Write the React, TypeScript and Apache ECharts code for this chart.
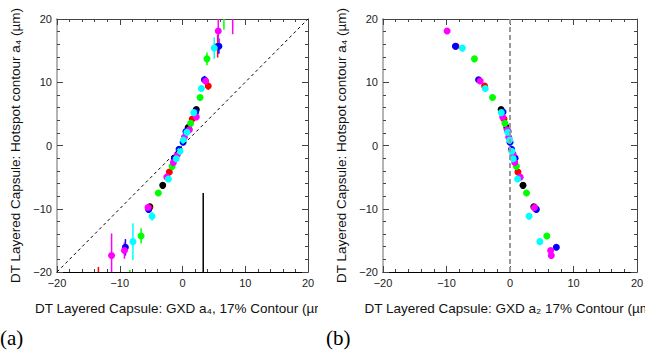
import { useEffect, useRef } from 'react';
import * as echarts from 'echarts';

// ROOT-style marker colours: black, red, green, blue, magenta, cyan
const seriesNames = ['black', 'red', 'green', 'blue', 'magenta', 'cyan'];
const seriesColors = ['#000000', '#ff0000', '#00ff00', '#0000ff', '#ff00ff', '#00ffff'];

// Hotspot contour a4 (shared y values), GXD a4 (panel a x), GXD a2 (panel b x), y error (panel a)
const blackY = [5.7, 2.85, -6.3, -9.7, -25];
const blackXA = [2.2, 0.9, -3.15, -5.2, 3.3];
const blackXB = [-1.4, -0.5, 2.05, 3.75, 9];
const blackErr = [0.4, 0.4, 0.4, 0.5, 17.5];

const redY = [15.7, 9.4, 4.2, -4.2, -9.9, -22];
const redXA = [5.6, 4.1, 1.55, -2.1, -5.3, -13.4];
const redXB = [-8.5, -4.0, -0.95, 1.25, 3.95, 8];
const redErr = [1.8, 0.6, 0.4, 0.4, 0.5, 2.8];

const greenY = [21.8, 13.7, 7.6, 3.5, -3.3, -7.5, -14.3, -22];
const greenXA = [6.6, 3.9, 2.8, 1.3, -1.65, -3.85, -6.6, -8.4];
const greenXB = [-11, -5.6, -2.75, -0.8, 1.0, 2.6, 5.8, 8];
const greenErr = [3.5, 1.0, 0.4, 0.4, 0.4, 0.4, 1.2, 2.3];

const blueY = [15.7, 10.4, 5.3, 2.2, 0.5, -0.6, -2.0, -10.1, -16.1];
const blueXA = [5.8, 3.5, 2.1, 0.55, 0.1, -0.55, -1.3, -5.4, -9.1];
const blueXB = [-8.6, -4.95, -1.1, -0.3, 0.0, 0.25, 0.8, 4.15, 7.3];
const blueErr = [1.2, 0.6, 0.4, 0.3, 0.3, 0.3, 0.3, 0.5, 1.3];

const magentaY = [22, 18.1, 10.2, 4.5, 2.5, 1.3, -1.4, -2.7, -5.0, -9.8, -16.6, -17.4];
const magentaXA = [8.0, 5.7, 3.7, 2.2, 1.1, 0.3, -0.8, -1.45, -2.5, -5.5, -9.25, -11.3];
const magentaXB = [-12, -9.9, -4.7, -1.15, -0.45, -0.2, 0.5, 0.75, 1.6, 3.85, 6.4, 6.5];
const magentaErr = [4.4, 2.5, 0.5, 0.4, 0.4, 0.3, 0.3, 0.3, 0.3, 0.5, 1.3, 3.5];

const cyanY = [15.4, 9.0, 5.2, 2.1, 0.85, -0.9, -2.1, -5.3, -11.2, -15.2];
const cyanXA = [5.06, 3.0, 1.8, 0.7, 0.15, -0.4, -1.0, -2.25, -4.85, -7.9];
const cyanXB = [-7.5, -3.9, -1.37, -0.35, -0.05, 0.3, 0.5, 1.2, 3.0, 4.7];
const cyanErr = [1.7, 0.5, 0.4, 0.3, 0.3, 0.3, 0.3, 0.4, 0.7, 2.9];

const allY = [blackY, redY, greenY, blueY, magentaY, cyanY];
const allXA = [blackXA, redXA, greenXA, blueXA, magentaXA, cyanXA];
const allXB = [blackXB, redXB, greenXB, blueXB, magentaXB, cyanXB];
const allErr = [blackErr, redErr, greenErr, blueErr, magentaErr, cyanErr];

const axisMin = -20;
const axisMax = 20;
const axisInterval = 10;

const titleY = 'DT Layered Capsule: Hotspot contour a₄ (µm)';
const titleXA = 'DT Layered Capsule: GXD a₄, 17% Contour (µm)';
const titleXB = 'DT Layered Capsule: GXD a₂ 17% Contour (µm)';

const FONT = '"Liberation Sans", Arial, Helvetica, sans-serif';

const fmt = (v: number) => (v < 0 ? '\u2212' + Math.abs(v) : String(v));

function makeAxis(kind: 'x' | 'y', main: boolean, name: string) {
  const ax: any = {
    type: 'value',
    min: axisMin,
    max: axisMax,
    interval: axisInterval,
    position: kind === 'x' ? (main ? 'bottom' : 'top') : main ? 'left' : 'right',
    axisLine: {
      show: true,
      onZero: false,
      lineStyle: {
        color: kind === 'y' && main ? '#b4b4b4' : main ? '#000' : '#444',
        width: kind === 'y' && main ? 2 : 1,
      },
    },
    axisTick: { show: true, inside: true, length: 6, lineStyle: { color: '#444', width: 1 } },
    minorTick: { show: true, splitNumber: 5, length: 3, lineStyle: { color: '#444', width: 1 } },
    splitLine: { show: false },
    axisLabel: main
      ? { show: true, formatter: fmt, fontSize: 11, color: '#222', margin: 5, fontFamily: FONT }
      : { show: false },
  };
  if (main) {
    ax.name = name;
    ax.nameLocation = 'middle';
    ax.nameGap = kind === 'x' ? 29 : 26;
    ax.nameTextStyle = { fontSize: 13.5, color: '#111', fontFamily: FONT };
  }
  return ax;
}

function buildOption(panel: 'a' | 'b', gridLeft: number, gridRight: number) {
  const series: any[] = [];
  if (panel === 'a') {
    series.push({
      type: 'line',
      data: [
        [axisMin, axisMin],
        [axisMax, axisMax],
      ],
      symbol: 'none',
      silent: true,
      lineStyle: { color: '#000', width: 1, type: [3, 3] },
    });
  } else {
    series.push({
      type: 'line',
      data: [
        [0, axisMin],
        [0, axisMax],
      ],
      symbol: 'none',
      silent: true,
      lineStyle: { color: '#9a9a9a', width: 2, type: [5, 3] },
    });
  }
  for (let i = 0; i < seriesNames.length; i++) {
    const color = seriesColors[i];
    const xs = panel === 'a' ? allXA[i] : allXB[i];
    if (panel === 'a') {
      series.push({
        type: 'custom',
        name: seriesNames[i] + ' err',
        clip: true,
        silent: true,
        data: xs.map((x, j) => [x, allY[i][j], allErr[i][j]]),
        encode: { x: 0, y: 1 },
        renderItem: (_params: any, api: any) => {
          const x = api.value(0);
          const y = api.value(1);
          const e = api.value(2);
          const p1 = api.coord([x, y - e]);
          const p2 = api.coord([x, y + e]);
          return {
            type: 'line',
            shape: { x1: p1[0], y1: p1[1], x2: p2[0], y2: p2[1] },
            style: { stroke: color, lineWidth: 1.5 },
          };
        },
      });
    }
    series.push({
      type: 'scatter',
      name: seriesNames[i],
      clip: true,
      symbol: 'circle',
      symbolSize: 7,
      itemStyle: { color, opacity: 1 },
      data: xs.map((x, j) => [x, allY[i][j]]),
    });
  }
  return {
    animation: false,
    backgroundColor: '#fff',
    grid: {
      left: gridLeft,
      right: gridRight,
      top: 19,
      bottom: 82,
      containLabel: false,
      outerBoundsMode: 'none',
    },
    xAxis: [makeAxis('x', true, panel === 'a' ? titleXA : titleXB), makeAxis('x', false, '')],
    yAxis: [makeAxis('y', true, titleY), makeAxis('y', false, '')],
    graphic: [
      {
        type: 'text',
        left: panel === 'a' ? 0 : 4,
        top: 327,
        style: {
          text: panel === 'a' ? '(a)' : '(b)',
          font: '21px "Liberation Serif", "DejaVu Serif", serif',
          fill: '#000',
        },
      },
    ],
    series,
  };
}

export default function App() {
  const refA = useRef<HTMLDivElement>(null);
  const refB = useRef<HTMLDivElement>(null);
  useEffect(() => {
    const ca = echarts.init(refA.current!, undefined, { renderer: 'svg' });
    const cb = echarts.init(refB.current!, undefined, { renderer: 'svg' });
    ca.setOption(buildOption('a', 57, 10) as any);
    cb.setOption(buildOption('b', 61, 8) as any);
    return () => {
      ca.dispose();
      cb.dispose();
    };
  }, []);
  return (
    <div style={{ position: 'absolute', left: 0, top: 0, width: 654, height: 354, background: '#fff', overflow: 'hidden' }}>
      <div ref={refA} style={{ position: 'absolute', left: 0, top: 0, width: 318, height: 354 }} />
      <div ref={refB} style={{ position: 'absolute', left: 322, top: 0, width: 323, height: 354 }} />
    </div>
  );
}
